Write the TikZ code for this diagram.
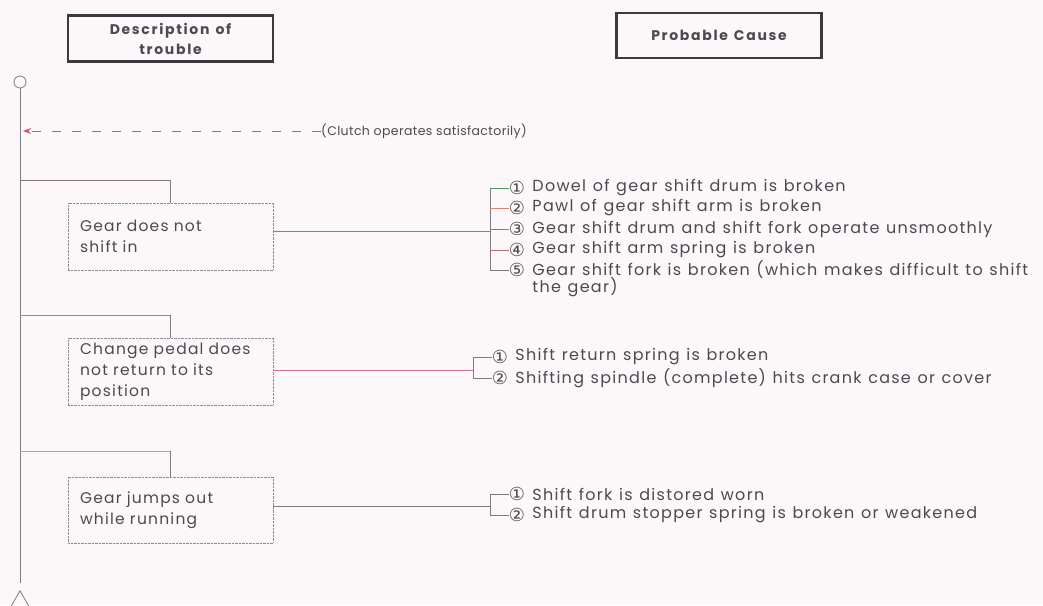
\documentclass[tikz,border=0pt]{standalone}
\usepackage{fontspec}
\setmainfont{Poppins}
\newfontfamily\numfont{DejaVu Sans}
\newfontfamily\causefont[LetterSpace=8,WordSpace=1.5]{Poppins}
\newfontfamily\boxfont[LetterSpace=8,WordSpace=1.2]{Poppins}
\newfontfamily\headfont[LetterSpace=12,WordSpace=1.3]{Poppins}
\newfontfamily\notefont[LetterSpace=3]{Poppins}
\usetikzlibrary{arrows.meta,positioning,shapes.geometric}
\definecolor{Paper}{HTML}{FCF7F9}
\definecolor{Ink}{HTML}{4A4A52}
\definecolor{HeadLine}{HTML}{3A3A40}
\definecolor{Wire}{HTML}{7C7C84}
\definecolor{Dots}{HTML}{8C8C94}
\definecolor{BranchA}{HTML}{8E7670}
\definecolor{BranchB}{HTML}{4FA9AA}
\definecolor{BranchC}{HTML}{D9909A}
\definecolor{LinkA}{HTML}{8A7E80}
\definecolor{LinkB}{HTML}{C9728A}
\definecolor{TickGreen}{HTML}{4E9A6C}
\definecolor{TickSalmon}{HTML}{D9826F}
\definecolor{TickPurple}{HTML}{8A70A8}
\definecolor{TickBrown}{HTML}{B07272}
\definecolor{ArrowRed}{HTML}{D9506A}

\begin{document}
\begin{tikzpicture}[x=1pt,y=-1pt,
      head/.style={draw=HeadLine,line width=2.2pt,minimum width=205pt,minimum height=46pt,
        align=center,font=\headfont\fontsize{14}{20}\selectfont\bfseries,text=Ink},
      trouble/.style={draw=Dots,densely dotted,minimum width=205pt,minimum height=67pt,
        align=left,text width=181pt,font=\boxfont\fontsize{15.5}{21}\selectfont,text=Ink},
      num/.style={font=\numfont\fontsize{18}{18}\selectfont,text=Ink,inner sep=0pt},
      cause/.style={font=\causefont\fontsize{16}{18}\selectfont,text=Ink,inner sep=0pt,align=left},
      link/.style={line width=0.8pt,color=Wire}
    ]
      \fill[Paper] (0,0) rectangle (1043,605);
      \useasboundingbox (0,0) rectangle (1043,605);

      % headings
      \node[head] (hdesc) at (170.5,38.5) {Description of\\trouble};
      \node[head,minimum height=45pt] (hcause) at (719,35.5) {Probable Cause};

      % main line
      \node[circle,draw=Wire,line width=0.8pt,minimum size=12pt,inner sep=0pt] (top) at (20,82) {};
      \node[isosceles triangle,shape border rotate=90,isosceles triangle apex angle=60,
        draw=Wire,line width=0.8pt,minimum height=17pt,inner sep=0pt,anchor=apex] (tri) at (20,590) {};
      \draw[link] (top.south) -- ([yshift=7pt]tri.apex);

      \node[font=\notefont\fontsize{12.5}{17}\selectfont,text=Ink,anchor=west,inner sep=0pt]
        (clutch) at (321,131) {(Clutch operates satisfactorily)};
      \draw[link,dash pattern=on 9pt off 11pt,-{Stealth[length=8pt,width=6pt,color=ArrowRed]}]
        (clutch.west) -- ([xshift=3pt]top |- clutch);

      % trouble boxes
      \node[trouble] (g1) at (170.5,236.5) {Gear does not\\shift in};
      \node[trouble] (g2) at (170.5,371.5) {Change pedal does\\not return to its\\position};
      \node[trouble,minimum height=66pt] (g3) at (170.5,510) {Gear jumps out\\while running};

      \coordinate (j1) at (20,180);
      \coordinate (j2) at (20,315);
      \coordinate (j3) at (20,451);
      \draw[line width=0.8pt,BranchA] (j1) -- (j1 -| g1.north);
      \draw[link] (j1 -| g1.north) -- (g1.north);
      \draw[line width=0.8pt,BranchB] (j2) -- (j2 -| g2.north);
      \draw[link] (j2 -| g2.north) -- (g2.north);
      \draw[line width=0.8pt,BranchC] (j3) -- (j3 -| g3.north);
      \draw[link] (j3 -| g3.north) -- (g3.north);

      % causes, group 1
      \coordinate (br1) at (490,231);
      \node[num] (n11) at (517,188) {①};
      \node[num] (n12) at (517,208) {②};
      \node[num] (n13) at (517,229) {③};
      \node[num] (n14) at (517,250) {④};
      \node[num] (n15) at (517,270) {⑤};
      \node[cause,right=7pt of n11] (c11) {Dowel of gear shift drum is broken};
      \node[cause,right=7pt of n12] (c12) {Pawl of gear shift arm is broken};
      \node[cause,right=7pt of n13] (c13) {Gear shift drum and shift fork operate unsmoothly};
      \node[cause,right=7pt of n14] (c14) {Gear shift arm spring is broken};
      \node[cause,right=7pt of n15] (c15) {Gear shift fork is broken (which makes difficult to shift};
      \node[cause,anchor=base west] (c16) at ([yshift=-17pt]c15.base west) {the gear)};
      \draw[line width=0.8pt,LinkA] (g1.east |- br1) -- (br1);
      \draw[link] (br1 |- n11) -- (br1 |- n15);
      \draw[line width=0.8pt,TickGreen] (br1 |- n11) -- (n11.west);
      \draw[line width=0.8pt,TickSalmon] (br1 |- n12) -- (n12.west);
      \draw[line width=0.8pt,TickPurple] (br1 |- n13) -- (n13.west);
      \draw[line width=0.8pt,TickBrown] (br1 |- n14) -- (n14.west);
      \draw[link] (br1 |- n15) -- (n15.west);

      % causes, group 2
      \coordinate (br2) at (473,370);
      \node[num] (n21) at (500,357) {①};
      \node[num] (n22) at (500,378) {②};
      \node[cause,right=7pt of n21] (c21) {Shift return spring is broken};
      \node[cause,right=7pt of n22] (c22) {Shifting spindle (complete) hits crank case or cover};
      \draw[line width=0.8pt,LinkB] (g2.east |- br2) -- (br2);
      \draw[link] (br2 |- n21) -- (br2 |- n22);
      \draw[link] (br2 |- n21) -- (n21.west);
      \draw[link] (br2 |- n22) -- (n22.west);

      % causes, group 3
      \coordinate (br3) at (490,506);
      \node[num] (n31) at (517,494) {①};
      \node[num] (n32) at (517,515) {②};
      \node[cause,right=7pt of n31] (c31) {Shift fork is distored worn};
      \node[cause,right=7pt of n32] (c32) {Shift drum stopper spring is broken or weakened};
      \draw[link] (g3.east |- br3) -- (br3);
      \draw[link] (br3 |- n31) -- (br3 |- n32);
      \draw[link] (br3 |- n31) -- (n31.west);
      \draw[link] (br3 |- n32) -- (n32.west);
    \end{tikzpicture}
\end{document}
